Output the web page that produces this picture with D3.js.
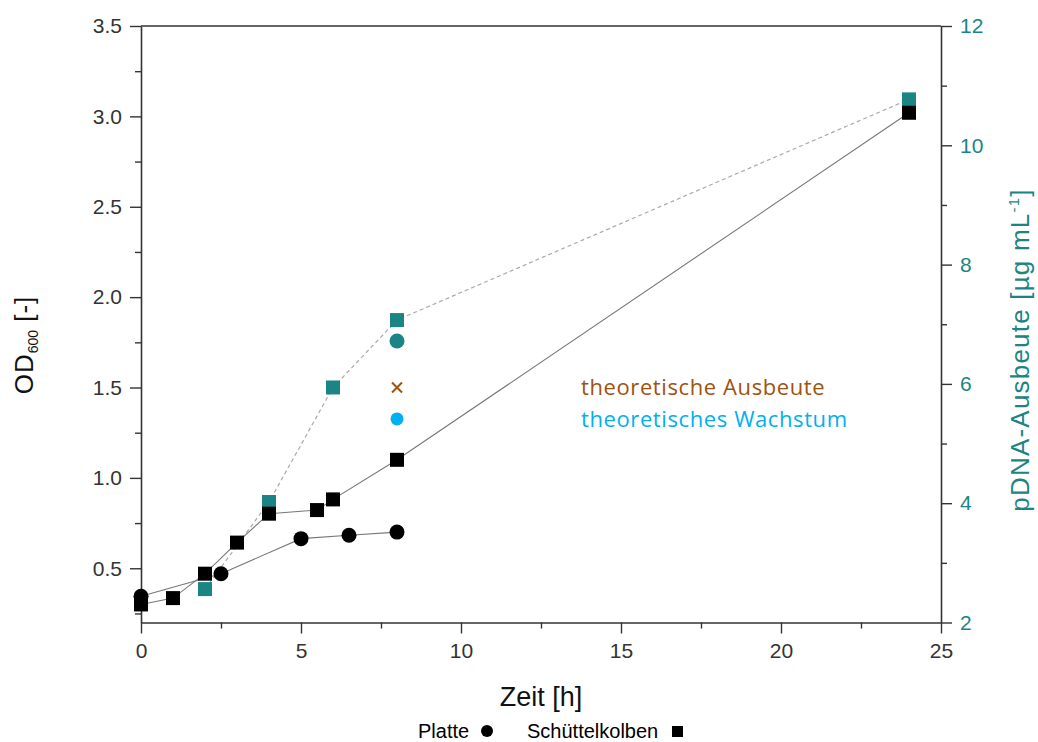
<!DOCTYPE html>
<html>
<head>
<meta charset="utf-8">
<script src="https://cdn.jsdelivr.net/npm/d3@7"></script>
<style>
  body { margin: 0; background: #fff; }
  svg { font-family: "Liberation Sans", Arial, sans-serif; }
</style>
</head>
<body>
<div id="chart"></div>
<script>
// Platte (OD600, left axis)
const platteTime = [0, 2.5, 5, 6.5, 8];
const platteOD = [0.345, 0.47, 0.664, 0.683, 0.70];

// Schüttelkolben (OD600, left axis)
const kolbenTime = [0, 1, 2, 3, 4, 5.5, 6, 8, 24];
const kolbenOD = [0.30, 0.335, 0.47, 0.642, 0.802, 0.822, 0.881, 1.10, 3.02];

// pDNA-Ausbeute Schüttelkolben (right axis)
const pdnaTime = [2, 4, 6, 8, 24];
const pdnaYield = [2.56, 4.02, 5.94, 7.07, 10.77];

// pDNA-Ausbeute Platte (right axis), single point
const pdnaPlatteTime = [8];
const pdnaPlatteYield = [6.72];

// theoretical values at t = 8 h
const theoYieldTime = [8];
const theoYield = [5.94];     // right axis
const theoGrowthTime = [8];
const theoGrowth = [1.326];   // left axis

const xTicks = [0, 5, 10, 15, 20, 25];
const yLeftTicks = [0.5, 1.0, 1.5, 2.0, 2.5, 3.0, 3.5];
const yRightTicks = [2, 4, 6, 8, 10, 12];

const width = 1038, height = 742;
const margin = { top: 26, right: 97, bottom: 119, left: 141 };
const teal = "#1b8585";

const svg = d3.select("#chart").append("svg")
    .attr("width", width)
    .attr("height", height);

const x = d3.scaleLinear().domain([0, 25]).range([margin.left, width - margin.right]);
const yL = d3.scaleLinear().domain([0.2, 3.5]).range([height - margin.bottom - 0.5, margin.top]);
const yR = d3.scaleLinear().domain([2, 12]).range([height - margin.bottom - 0.5, margin.top]);

const plotBottom = height - margin.bottom - 0.5;

// top frame line
svg.append("line")
    .attr("x1", x(0)).attr("x2", x(25))
    .attr("y1", margin.top).attr("y2", margin.top)
    .attr("stroke", "#333").attr("stroke-width", 1.5);

// minor ticks
const minorX = d3.range(2.5, 25, 5);
const minorL = d3.range(0.25, 3.5, 0.5);
const minorR = d3.range(3, 12, 2);

function styleAxis(g, color) {
    g.select(".domain").attr("stroke", "#333").attr("stroke-width", 1.6);
    g.selectAll(".tick line").attr("stroke", "#333").attr("stroke-width", 1.4);
    g.selectAll(".tick text").attr("fill", color).style("font-size", "21px");
}

const xAxis = svg.append("g")
    .attr("transform", `translate(0,${plotBottom})`)
    .call(d3.axisBottom(x).tickValues(xTicks).tickFormat(d3.format("d")).tickSize(11).tickPadding(10).tickSizeOuter(0));
styleAxis(xAxis, "#333");
svg.append("g")
    .attr("transform", `translate(0,${plotBottom})`)
    .call(d3.axisBottom(x).tickValues(minorX).tickSize(6).tickFormat(""))
    .call(g => g.select(".domain").remove())
    .call(g => g.selectAll("line").attr("stroke", "#333").attr("stroke-width", 1.4));

const yLAxis = svg.append("g")
    .attr("transform", `translate(${x(0)},0)`)
    .call(d3.axisLeft(yL).tickValues(yLeftTicks).tickFormat(d3.format(".1f")).tickSize(11).tickPadding(8).tickSizeOuter(0));
styleAxis(yLAxis, "#333");
svg.append("g")
    .attr("transform", `translate(${x(0)},0)`)
    .call(d3.axisLeft(yL).tickValues(minorL).tickSize(6).tickFormat(""))
    .call(g => g.select(".domain").remove())
    .call(g => g.selectAll("line").attr("stroke", "#333").attr("stroke-width", 1.4));

const yRAxis = svg.append("g")
    .attr("transform", `translate(${x(25)},0)`)
    .call(d3.axisRight(yR).tickValues(yRightTicks).tickFormat(d3.format("d")).tickSize(11).tickPadding(8).tickSizeOuter(0));
styleAxis(yRAxis, teal);
svg.append("g")
    .attr("transform", `translate(${x(25)},0)`)
    .call(d3.axisRight(yR).tickValues(minorR).tickSize(6).tickFormat(""))
    .call(g => g.select(".domain").remove())
    .call(g => g.selectAll("line").attr("stroke", "#333").attr("stroke-width", 1.4));

// lines
const lineL = d3.line().x(d => x(d[0])).y(d => yL(d[1]));
const lineR = d3.line().x(d => x(d[0])).y(d => yR(d[1]));

svg.append("path")
    .datum(pdnaTime.map((t, i) => [t, pdnaYield[i]]))
    .attr("d", lineR)
    .attr("fill", "none")
    .attr("stroke", "#aaa")
    .attr("stroke-width", 1.2)
    .attr("stroke-dasharray", "4,3");

svg.append("path")
    .datum(kolbenTime.map((t, i) => [t, kolbenOD[i]]))
    .attr("d", lineL)
    .attr("fill", "none")
    .attr("stroke", "#777")
    .attr("stroke-width", 1.1);

svg.append("path")
    .datum(platteTime.map((t, i) => [t, platteOD[i]]))
    .attr("d", lineL)
    .attr("fill", "none")
    .attr("stroke", "#777")
    .attr("stroke-width", 1.1);

// markers
const sq = 14;
svg.selectAll(".pdna")
    .data(pdnaTime.map((t, i) => [t, pdnaYield[i]]))
    .join("rect")
    .attr("x", d => x(d[0]) - sq / 2)
    .attr("y", d => yR(d[1]) - sq / 2)
    .attr("width", sq).attr("height", sq)
    .attr("fill", teal);

svg.selectAll(".kolben")
    .data(kolbenTime.map((t, i) => [t, kolbenOD[i]]))
    .join("rect")
    .attr("x", d => x(d[0]) - sq / 2)
    .attr("y", d => yL(d[1]) - sq / 2)
    .attr("width", sq).attr("height", sq)
    .attr("fill", "#000");

svg.selectAll(".platte")
    .data(platteTime.map((t, i) => [t, platteOD[i]]))
    .join("circle")
    .attr("cx", d => x(d[0]))
    .attr("cy", d => yL(d[1]))
    .attr("r", 7.5)
    .attr("fill", "#000");

svg.selectAll(".pdnaPlatte")
    .data(pdnaPlatteTime.map((t, i) => [t, pdnaPlatteYield[i]]))
    .join("circle")
    .attr("cx", d => x(d[0]))
    .attr("cy", d => yR(d[1]))
    .attr("r", 7.5)
    .attr("fill", teal);

svg.selectAll(".theoGrowth")
    .data(theoGrowthTime.map((t, i) => [t, theoGrowth[i]]))
    .join("circle")
    .attr("cx", d => x(d[0]))
    .attr("cy", d => yL(d[1]))
    .attr("r", 6.5)
    .attr("fill", "#00b0f0");

svg.selectAll(".theoYield")
    .data(theoYieldTime.map((t, i) => [t, theoYield[i]]))
    .join("path")
    .attr("transform", d => `translate(${x(d[0])},${yR(d[1])})`)
    .attr("d", "M-5,-5L5,5M-5,5L5,-5")
    .attr("stroke", "#a0520f")
    .attr("stroke-width", 2);

// annotation
svg.append("text")
    .attr("x", 581).attr("y", 395)
    .attr("fill", "#a0520f")
    .style("font-family", "'Open Sans', sans-serif")
    .style("font-size", "22px")
    .style("letter-spacing", "0.6px")
    .text("theoretische Ausbeute");
svg.append("text")
    .attr("x", 581).attr("y", 427)
    .attr("fill", "#00b0f0")
    .style("font-family", "'Open Sans', sans-serif")
    .style("font-size", "22px")
    .style("letter-spacing", "0.6px")
    .text("theoretisches Wachstum");

// axis titles
svg.append("text")
    .attr("x", 541).attr("y", 706)
    .attr("text-anchor", "middle")
    .attr("fill", "#111")
    .style("font-size", "27px")
    .text("Zeit [h]");

const odLabel = svg.append("text")
    .attr("transform", "translate(33,345) rotate(-90)")
    .attr("text-anchor", "middle")
    .attr("fill", "#111")
    .style("font-size", "26px")
    .style("letter-spacing", "1px");
odLabel.append("tspan").text("OD");
odLabel.append("tspan").attr("dy", 5).style("font-size", "14px").style("letter-spacing", "0px").text("600");
odLabel.append("tspan").attr("dy", -5).text(" [-]");

const pdnaLabel = svg.append("text")
    .attr("transform", "translate(1029,350) rotate(-90)")
    .attr("text-anchor", "middle")
    .attr("fill", teal)
    .style("font-size", "26px")
    .style("letter-spacing", "1.2px");
pdnaLabel.append("tspan").text("pDNA-Ausbeute [µg mL");
pdnaLabel.append("tspan").attr("dy", -10).style("font-size", "15px").text("-1");
pdnaLabel.append("tspan").attr("dy", 10).text("]");

// legend
const legendY = 738;
svg.append("text")
    .attr("x", 418).attr("y", legendY)
    .attr("fill", "#000")
    .style("font-size", "20px")
    .text("Platte");
svg.append("circle")
    .attr("cx", 487).attr("cy", legendY - 7).attr("r", 6).attr("fill", "#000");
svg.append("text")
    .attr("x", 527).attr("y", legendY)
    .attr("fill", "#000")
    .style("font-size", "20px")
    .text("Schüttelkolben");
svg.append("rect")
    .attr("x", 672).attr("y", legendY - 12).attr("width", 11).attr("height", 11).attr("fill", "#000");
</script>
</body>
</html>
